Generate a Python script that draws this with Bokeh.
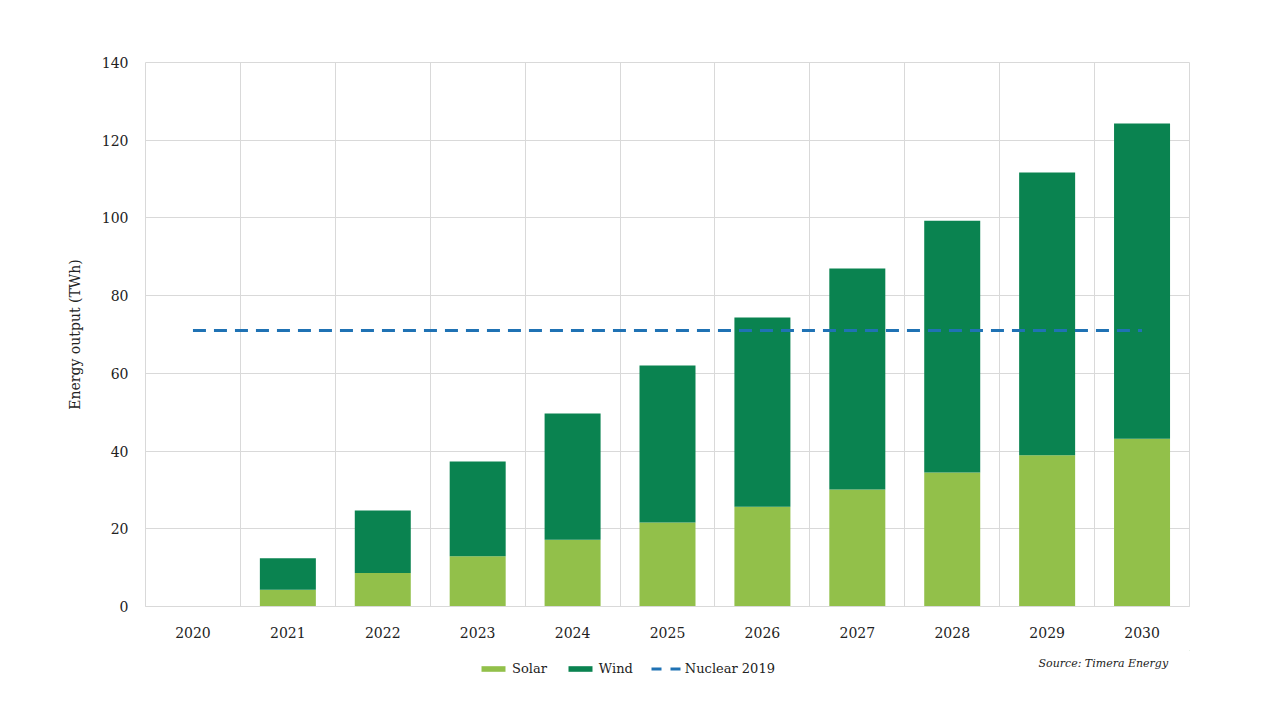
from bokeh.plotting import figure
from bokeh.layouts import column
from bokeh.models import Range1d, FixedTicker, Legend, LegendItem, Label, ColumnDataSource
from bokeh.embed import file_html
from bokeh.resources import INLINE

years = ["2020", "2021", "2022", "2023", "2024", "2025", "2026", "2027", "2028", "2029", "2030"]
solar = [0, 4.3, 8.6, 12.9, 17.2, 21.6, 25.7, 30.1, 34.5, 38.9, 43.2]
wind = [0, 8.1, 16.1, 24.4, 32.5, 40.4, 48.7, 56.9, 64.8, 72.8, 81.1]
nuclear_2019 = 71.0
y_ticks = [0, 20, 40, 60, 80, 100, 120, 140]

FONT = "DejaVu Serif"
SOLAR_C = "#92C04A"
WIND_C = "#0A8350"
NUC_C = "#1F72B4"
TXT_C = "#222222"

idx = list(range(len(years)))
src = ColumnDataSource(dict(x=idx, Solar=solar, Wind=wind))

p = figure(width=1264, height=650, output_backend="svg", toolbar_location=None,
           x_range=Range1d(-0.5, len(years) - 0.5), y_range=Range1d(0, 140),
           min_border_left=145, min_border_right=75, min_border_top=62, min_border_bottom=44)

bars = p.vbar_stack(["Solar", "Wind"], x="x", width=0.59, source=src,
                    color=[SOLAR_C, WIND_C], line_color=None)
nuc = p.line(x=[idx[0], idx[-1]], y=[nuclear_2019, nuclear_2019], line_color=NUC_C,
             line_width=3, line_dash="13 8")

p.outline_line_color = "#d9d9d9"
p.xgrid.ticker = FixedTicker(ticks=[i - 0.5 for i in range(len(years) + 1)])
p.xgrid.grid_line_color = "#d9d9d9"
p.ygrid.grid_line_color = "#d9d9d9"
p.ygrid.ticker = FixedTicker(ticks=y_ticks)

p.xaxis.ticker = FixedTicker(ticks=idx)
p.xaxis.major_label_overrides = {i: y for i, y in enumerate(years)}
p.yaxis.ticker = FixedTicker(ticks=y_ticks)
for ax in (p.xaxis[0], p.yaxis[0]):
    ax.axis_line_color = None
    ax.major_tick_line_color = None
    ax.minor_tick_line_color = None
    ax.major_label_text_font = FONT
    ax.major_label_text_font_size = "14px"
    ax.major_label_text_color = TXT_C
p.xaxis.axis_line_color = "#d9d9d9"
p.xaxis.major_label_standoff = 14
p.yaxis.major_label_standoff = 11
p.yaxis.axis_label = "Energy output (TWh)"
p.yaxis.axis_label_text_font = FONT
p.yaxis.axis_label_text_font_size = "14px"
p.yaxis.axis_label_text_font_style = "normal"
p.yaxis.axis_label_text_color = TXT_C
p.yaxis.axis_label_standoff = 16

# footer figure holding the legend and the source note (frame aligned with the chart above)
f = figure(width=1264, height=54, output_backend="svg", toolbar_location=None,
           x_range=Range1d(0, 1), y_range=Range1d(0, 1), x_axis_type=None, y_axis_type=None,
           min_border_left=0, min_border_right=0, min_border_top=0, min_border_bottom=0)
f.grid.visible = False
f.outline_line_color = None
ls = f.vbar(x=[5], top=[5], bottom=[4], width=0.5, color=SOLAR_C, line_color=None)
lw = f.vbar(x=[5], top=[5], bottom=[4], width=0.5, color=WIND_C, line_color=None)
ln = f.line(x=[5, 6], y=[5, 5], line_color=NUC_C, line_width=3, line_dash="10 9")

legend = Legend(items=[LegendItem(label="Solar", renderers=[ls]),
                       LegendItem(label="Wind", renderers=[lw]),
                       LegendItem(label="Nuclear 2019", renderers=[ln])],
                orientation="horizontal", location=(333, 28),
                glyph_width=30, glyph_height=7, label_height=16, label_standoff=4, spacing=18,
                padding=0, margin=0, border_line_color=None, background_fill_alpha=0,
                label_text_font=FONT, label_text_font_size="13px", label_text_color=TXT_C)
f.add_layout(legend, "center")
f.add_layout(Label(x=893, y=41, x_units="screen", y_units="screen", text="Source: Timera Energy",
                   text_font=FONT, text_font_style="italic", text_font_size="11px",
                   text_baseline="middle", text_color=TXT_C))

layout = column(p, f, spacing=0)
open("out.html", "w").write(file_html(layout, INLINE))
